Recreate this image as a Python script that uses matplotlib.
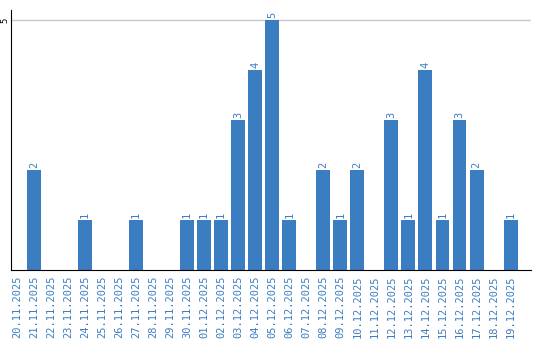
import matplotlib.pyplot as plt
import numpy as np

dates = ["20.11.2025", "21.11.2025", "22.11.2025", "23.11.2025", "24.11.2025",
         "25.11.2025", "26.11.2025", "27.11.2025", "28.11.2025", "29.11.2025",
         "30.11.2025", "01.12.2025", "02.12.2025", "03.12.2025", "04.12.2025",
         "05.12.2025", "06.12.2025", "07.12.2025", "08.12.2025", "09.12.2025",
         "10.12.2025", "11.12.2025", "12.12.2025", "13.12.2025", "14.12.2025",
         "15.12.2025", "16.12.2025", "17.12.2025", "18.12.2025", "19.12.2025"]
counts = [0, 2, 0, 0, 1, 0, 0, 1, 0, 0, 1, 1, 1, 3, 4, 5, 1, 0, 2, 1,
          2, 0, 3, 1, 4, 1, 3, 2, 0, 1]

blue = "#3b7dc1"

fig = plt.figure(figsize=(5.4, 3.4), dpi=100)
ax = fig.add_axes([11 / 540, 70 / 340, 520 / 540, 260 / 340])

x = np.arange(len(dates))
ax.bar(x, counts, width=0.82, color=blue, zorder=2)

# value labels above the bars
for xi, c in zip(x, counts):
    if c > 0:
        ax.text(xi, c + 0.05, str(c), rotation=90, ha="center", va="bottom",
                color=blue, fontsize=7.5, family="DejaVu Sans Mono")

ax.set_xlim(-0.35, 30.2)
ax.set_ylim(0, 5.2)
ax.set_yticks([5])
ax.set_yticklabels(["5"], rotation=90, va="center", fontsize=6.5,
                   family="DejaVu Sans Mono")
ax.tick_params(axis="y", length=0, pad=1)
ax.axhline(5, color="#c8c8c8", lw=1, zorder=1)

ax.set_xticks(x)
ax.set_xticklabels(dates, rotation=90, color=blue, fontsize=7.5,
                   family="DejaVu Sans Mono")
ax.tick_params(axis="x", length=0, pad=4)

for s in ["top", "right"]:
    ax.spines[s].set_visible(False)
ax.spines["left"].set_color("black")
ax.spines["bottom"].set_color("black")

fig.savefig("out.png", dpi=100)
